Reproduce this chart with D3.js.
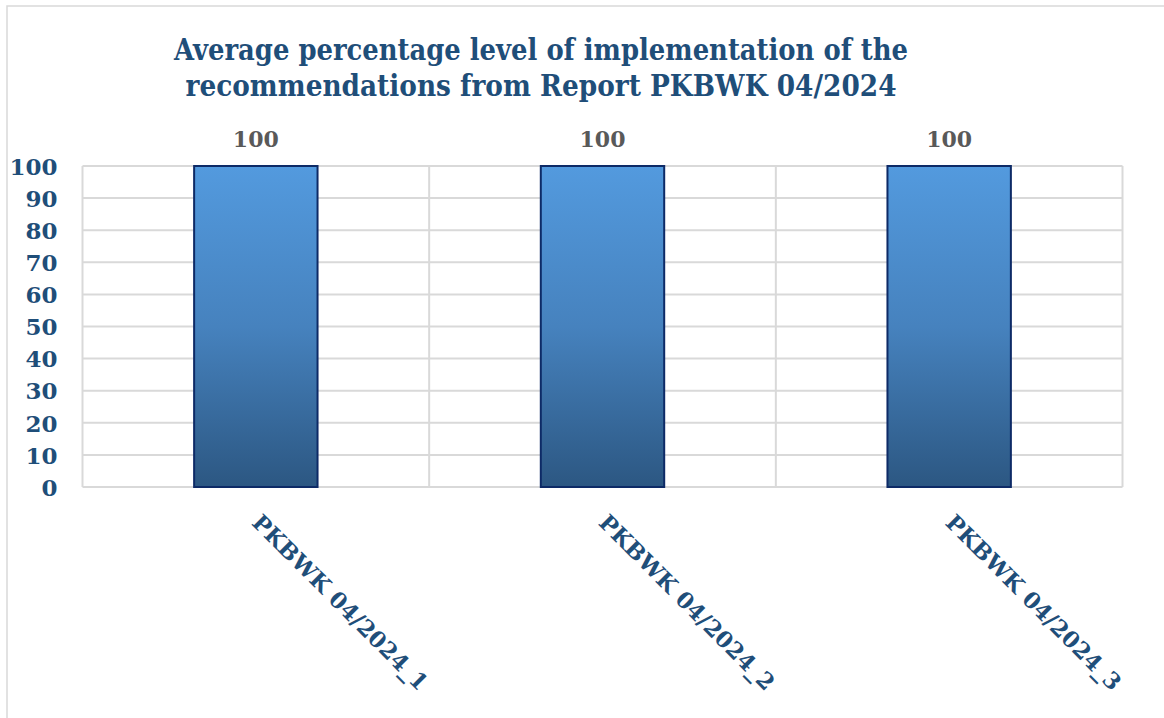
<!DOCTYPE html>
<html>
<head>
<meta charset="utf-8">
<script src="https://cdn.jsdelivr.net/npm/d3@7"></script>
<style>
  html, body { margin: 0; padding: 0; background: #ffffff; }
  svg { display: block; }
</style>
</head>
<body>
<svg id="chart" width="1164" height="718"></svg>
<script>
// Chart data
const categories = ["PKBWK 04/2024_1", "PKBWK 04/2024_2", "PKBWK 04/2024_3"];
const values = [100, 100, 100];
const yTicks = [0, 10, 20, 30, 40, 50, 60, 70, 80, 90, 100];
const titleLines = [
  "Average percentage level of implementation of the",
  "recommendations from Report PKBWK 04/2024"
];

const W = 1164, H = 718;
const margin = { left: 82.5, right: 41.5, top: 166, bottom: 231 };
const plotW = W - margin.left - margin.right;
const plotH = H - margin.top - margin.bottom;

const serif = "'DejaVu Serif', 'Liberation Serif', serif";
const navy = "#1f4e79";

const svg = d3.select("#chart");

// Outer chart frame
svg.append("rect")
  .attr("x", 7).attr("y", 6)
  .attr("width", W).attr("height", H)
  .attr("fill", "#ffffff")
  .attr("stroke", "#d9d9d9").attr("stroke-width", 1.5);

// Bar gradient
const defs = svg.append("defs");
const grad = defs.append("linearGradient")
  .attr("id", "barGrad")
  .attr("x1", 0).attr("y1", 0).attr("x2", 0).attr("y2", 1);
grad.append("stop").attr("offset", "0%").attr("stop-color", "#539ade");
grad.append("stop").attr("offset", "50%").attr("stop-color", "#4682be");
grad.append("stop").attr("offset", "100%").attr("stop-color", "#2c5782");

// Title
const title = svg.append("g").attr("class", "title");
const titleWidths = [734, 711];
titleLines.forEach((line, i) => {
  title.append("text")
    .attr("x", 541)
    .attr("y", 60 + i * 36)
    .attr("text-anchor", "middle")
    .attr("font-family", serif)
    .attr("font-weight", "bold")
    .attr("font-size", 30)
    .attr("fill", navy)
    .attr("textLength", titleWidths[i])
    .attr("lengthAdjust", "spacingAndGlyphs")
    .text(line);
});

const g = svg.append("g").attr("transform", `translate(${margin.left},${margin.top})`);

// Scales
const x = d3.scaleBand()
  .domain(categories)
  .range([0, plotW])
  .paddingInner(0.644)
  .paddingOuter(0.322);

const y = d3.scaleLinear().domain([0, 100]).range([plotH, 0]);

// Horizontal gridlines
g.append("g")
  .selectAll("line")
  .data(yTicks)
  .join("line")
  .attr("x1", 0).attr("x2", plotW)
  .attr("y1", d => y(d)).attr("y2", d => y(d))
  .attr("stroke", "#d9d9d9").attr("stroke-width", 2);

// Vertical gridlines at category boundaries
const step = x.step();
const boundaries = d3.range(categories.length + 1).map(i => i * step);
g.append("g")
  .selectAll("line")
  .data(boundaries)
  .join("line")
  .attr("x1", d => d).attr("x2", d => d)
  .attr("y1", 0).attr("y2", plotH)
  .attr("stroke", "#d9d9d9").attr("stroke-width", 2);

// Y axis labels
const yAxis = d3.axisLeft(y).tickValues(yTicks).tickSize(0).tickPadding(25);
const yG = g.append("g").call(yAxis);
yG.select(".domain").remove();
yG.selectAll("text")
  .attr("font-family", serif)
  .attr("font-weight", "bold")
  .attr("font-size", 23)
  .attr("fill", navy)
  .attr("dy", "0.36em");

// Bars
g.append("g")
  .selectAll("rect")
  .data(values)
  .join("rect")
  .attr("x", (d, i) => x(categories[i]))
  .attr("y", d => y(d))
  .attr("width", x.bandwidth())
  .attr("height", d => plotH - y(d))
  .attr("fill", "url(#barGrad)")
  .attr("stroke", "#0d2a66").attr("stroke-width", 2);

// Value labels
g.append("g")
  .selectAll("text")
  .data(values)
  .join("text")
  .attr("x", (d, i) => x(categories[i]) + x.bandwidth() / 2)
  .attr("y", d => y(d) - 19)
  .attr("text-anchor", "middle")
  .attr("font-family", serif)
  .attr("font-weight", "bold")
  .attr("font-size", 22)
  .attr("fill", "#595959")
  .text(d => d);

// X axis labels, rotated
const xAxis = d3.axisBottom(x).tickSize(0).tickPadding(0);
const xG = g.append("g").attr("transform", `translate(0,${plotH})`).call(xAxis);
xG.select(".domain").remove();
xG.selectAll("text")
  .attr("font-family", serif)
  .attr("font-weight", "bold")
  .attr("font-size", 22.5)
  .attr("fill", navy)
  .attr("text-anchor", "start")
  .attr("y", 0)
  .attr("dy", 0)
  .attr("transform", "translate(-5,37) rotate(45)");
</script>
</body>
</html>
